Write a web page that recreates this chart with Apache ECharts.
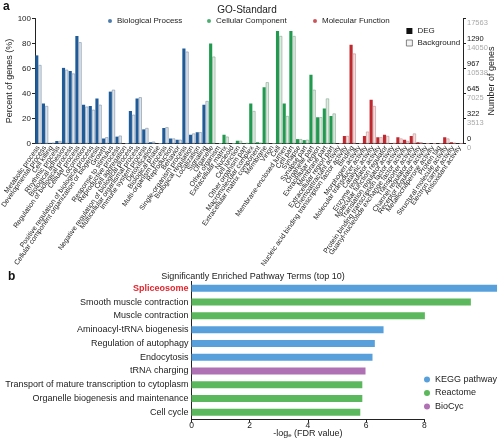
<!DOCTYPE html>
<html><head><meta charset="utf-8">
<script src="https://cdn.jsdelivr.net/npm/echarts@6/dist/echarts.min.js"></script>
<style>html,body{margin:0;padding:0;background:#fff}#c{width:500px;height:438px}</style>
</head><body><div id="c"></div>
<script>
// ---------- Panel a: GO-Standard ----------
const groupNames = ['Biological Process', 'Cellular Component', 'Molecular Function'];
const groupSizes = [26, 19, 19];
const goCategories = [
  'Metabolic process','Developmental process','Cell killing','Rhythmic process','Biological adhesion',
  'Regulation of biological process','Cellular process','Locomotion','Positive regulation of biological process',
  'Cellular component organization or biogenesis','Growth','Response to stimulus','Reproductive process',
  'Cell aggregation','Negative regulation of biological process','Multicellular organismal process',
  'Immune system process','Detoxification','Biological phase','Multi-organism process','Reproduction',
  'Behavior','Single-organism process','Biological regulation','Localization','Signaling',
  'Organelle','Other organism','Extracellular matrix','Nucleoid','Cell junction','Other organism part',
  'Macromolecular complex','Extracellular matrix component','Membrane','Virion','Cell',
  'Membrane-enclosed lumen','Cell part','Synapse','Synapse part','Organelle part',
  'Extracellular region','Membrane part','Extracellular region part',
  'Chemoattractant activity','Nucleic acid binding transcription factor activity','Binding',
  'Morphogen activity','Molecular transducer activity','Catalytic activity','Enzyme regulator activity',
  'Molecular function regulator','Translation regulator activity',
  'Protein binding transcription factor activity','Guanyl-nucleotide exchange factor activity',
  'Transporter activity','Channel regulator activity','Receptor regulator activity',
  'Metallochaperone activity','Protein tag','Structural molecule activity','Electron carrier activity',
  'Antioxidant activity'
];
const degPercent = [
  70.5,32,0.5,2,60.5,58,86,31,30,36,4,41.5,5.5,0,26,36,11.3,1,0,12.4,4,3,76,7,9,31,
  80,0,7,0,2.2,0.3,32,1,45,0,90,32,90,3.5,2.7,55,21,28,22,
  0,6,79,0,6,35,5,7,0.3,5,3,6,1,0,0,0,5,1,0
];
const bgPercent = [
  62.8,30,0.5,2,59,56,81,29.5,27,31,5,43,6.3,0,23,37,12.4,1.5,0,13,4,3,73.5,8,9,34,
  69.5,0,5.5,0,2.2,0.3,26,0.5,49,0,86,22,86,3.5,3,43,21,36,24,
  0,6,72,0,9.5,30,5,6,0.3,4,2,8,1,0,0,0,4,0.5,0
];
const percentTicks = [0, 20, 40, 60, 80, 100];
const degCountTicks = ['0','322','645','967','1290',''];
const bgCountTicks = ['0','3513','7025','10538','14050','17563'];

// ---------- Panel b: pathway terms ----------
const pathwayTerms = ['Spliceosome','Smooth muscle contraction','Muscle contraction','Aminoacyl-tRNA biogenesis',
  'Regulation of autophagy','Endocytosis','tRNA charging','Transport of mature transcription to cytoplasm',
  'Organelle biogenesis and maintenance','Cell cycle'];
const pathwayValues = [10.5, 9.6, 8.02, 6.6, 6.3, 6.22, 5.98, 5.87, 5.87, 5.8];
const pathwaySource = ['KEGG pathway','Reactome','Reactome','KEGG pathway','KEGG pathway','KEGG pathway',
  'BioCyc','Reactome','Reactome','Reactome'];
const sourceNames = ['KEGG pathway','Reactome','BioCyc'];

// ---------- styling ----------
const FONT = '"Liberation Sans", Arial, sans-serif';
const groupColors = ['#1f5b98', '#1f9a4e', '#c0282f'];
const bgFill = ['#dde3ea', '#dfe9e2', '#f0e0e0'];
const bgBorder = ['#7c91a7', '#7fa78b', '#c88c8c'];
const sourceColors = ['#58a0dc', '#5cb85c', '#b070b4'];

function groupOf(i) {
  let acc = 0;
  for (let g = 0; g < groupSizes.length; g++) { acc += groupSizes[g]; if (i < acc) return g; }
  return groupSizes.length - 1;
}

const degData = degPercent.map((v, i) => ({ value: v, itemStyle: { color: groupColors[groupOf(i)] } }));
const bgData = bgPercent.map((v, i) => ({ value: v, itemStyle: { color: bgFill[groupOf(i)], borderColor: bgBorder[groupOf(i)], borderWidth: 0.6 } }));

const chart = echarts.init(document.getElementById('c'), null, { renderer: 'canvas' });

const option = {
  animation: false,
  textStyle: { fontFamily: FONT },
  graphic: [
    { type: 'text', x: 3, y: 1, style: { text: 'a', font: 'bold 12px ' + FONT, fill: '#111' } },
    { type: 'text', x: 247, y: 10, style: { text: 'GO-Standard', font: '10px ' + FONT, fill: '#222', textAlign: 'center', textVerticalAlign: 'middle' } },
    { type: 'text', x: 8, y: 271, style: { text: 'b', font: 'bold 12px ' + FONT, fill: '#111' } },
    { type: 'text', x: 253, y: 277, style: { text: 'Significantly Enriched Pathway Terms (top 10)', font: '9px ' + FONT, fill: '#222', textAlign: 'center', textVerticalAlign: 'middle' } }
  ],
  legend: [
    { data: [groupNames[0]], left: 108, top: 17, padding: 0, icon: 'circle', itemWidth: 4, itemHeight: 4, selectedMode: false, textStyle: { fontSize: 8, color: '#222' } },
    { data: [groupNames[1]], left: 207, top: 17, padding: 0, icon: 'circle', itemWidth: 4, itemHeight: 4, selectedMode: false, textStyle: { fontSize: 8, color: '#222' } },
    { data: [groupNames[2]], left: 313, top: 17, padding: 0, icon: 'circle', itemWidth: 4, itemHeight: 4, selectedMode: false, textStyle: { fontSize: 8, color: '#222' } },
    { data: [
        { name: 'DEG', icon: 'rect', itemStyle: { color: '#111', borderWidth: 0 } },
        { name: 'Background', icon: 'rect', itemStyle: { color: '#f4f4f4', borderColor: '#666', borderWidth: 0.8 } }
      ],
      orient: 'vertical', left: 406, top: 27, padding: 0, itemWidth: 6, itemHeight: 6, itemGap: 4, selectedMode: false,
      textStyle: { fontSize: 8, color: '#222' } },
    { data: sourceNames, orient: 'vertical', left: 424, top: 375, padding: 0, icon: 'circle', itemWidth: 6, itemHeight: 6, itemGap: 4.5, selectedMode: false,
      textStyle: { fontSize: 9, color: '#222' } }
  ],
  grid: [
    { left: 35, right: 37, top: 18.5, bottom: 294.5, outerBoundsMode: 'none', containLabel: false },
    { left: 191.5, right: 75.7, top: 281.4, bottom: 18.8, outerBoundsMode: 'none', containLabel: false }
  ],
  xAxis: [
    { type: 'category', gridIndex: 0, data: goCategories,
      axisLine: { lineStyle: { color: '#222', width: 1 } }, axisTick: { show: false },
      axisLabel: { interval: 0, rotate: 55, fontSize: 7, color: '#222', margin: 3 } },
    { type: 'value', gridIndex: 1, min: 0, max: 8, interval: 2,
      axisLine: { show: true, lineStyle: { color: '#222' } }, axisTick: { show: true, length: 3, lineStyle: { color: '#222' } },
      splitLine: { show: false },
      axisLabel: { fontSize: 8.5, color: '#222', margin: 2 },
      name: '-log{s|e} (FDR value)', nameLocation: 'middle', nameGap: 9, nameMoveOverlap: false,
      nameTextStyle: { fontSize: 9, color: '#222', verticalAlign: 'top', rich: { s: { fontSize: 6, verticalAlign: 'bottom', padding: [4, 0, 0, 0] } } } }
  ],
  yAxis: [
    { type: 'value', gridIndex: 0, min: 0, max: 100, interval: 20, position: 'left',
      axisLine: { show: true, lineStyle: { color: '#222' } }, axisTick: { show: true, length: 3, lineStyle: { color: '#222' } },
      splitLine: { show: false },
      axisLabel: { fontSize: 8, color: '#222', margin: 4 },
      name: 'Percent of genes (%)', nameLocation: 'middle', nameGap: 21, nameMoveOverlap: false, nameTextStyle: { fontSize: 9, color: '#222' } },
    { type: 'value', gridIndex: 0, min: 0, max: 100, interval: 20, position: 'right',
      axisLine: { show: true, lineStyle: { color: '#222' } }, axisTick: { show: true, length: 3, lineStyle: { color: '#222' } },
      splitLine: { show: false },
      axisLabel: { margin: 4, formatter: function (v) {
          const k = percentTicks.indexOf(v);
          return '{a|' + (degCountTicks[k] || ' ') + '}\n{b|' + bgCountTicks[k] + '}';
        },
        rich: { a: { fontSize: 7.5, color: '#111', lineHeight: 9 }, b: { fontSize: 7.5, color: '#aaa', lineHeight: 9 } } },
      name: 'Number of genes', nameLocation: 'middle', nameGap: 24, nameMoveOverlap: false, nameTextStyle: { fontSize: 9, color: '#222' } },
    { type: 'category', gridIndex: 1, data: pathwayTerms, inverse: true,
      axisLine: { show: true, lineStyle: { color: '#222' } }, axisTick: { show: false },
      axisLabel: { fontSize: 9, color: '#222', margin: 3,
        formatter: function (v, i) { return i === 0 ? '{r|' + v + '}' : v; },
        rich: { r: { fontSize: 9, color: '#e0262e', fontWeight: 'bold' } } } }
  ],
  series: [
    { name: 'DEG', type: 'bar', xAxisIndex: 0, yAxisIndex: 0, data: degData, barGap: '0%', barCategoryGap: '6%' },
    { name: 'Background', type: 'bar', xAxisIndex: 0, yAxisIndex: 0, data: bgData, barGap: '0%', barCategoryGap: '6%' },
    { name: groupNames[0], type: 'scatter', xAxisIndex: 0, yAxisIndex: 0, data: [], itemStyle: { color: groupColors[0] } },
    { name: groupNames[1], type: 'scatter', xAxisIndex: 0, yAxisIndex: 0, data: [], itemStyle: { color: groupColors[1] } },
    { name: groupNames[2], type: 'scatter', xAxisIndex: 0, yAxisIndex: 0, data: [], itemStyle: { color: groupColors[2] } }
  ].concat(sourceNames.map((s, k) => ({
    name: s, type: 'bar', xAxisIndex: 1, yAxisIndex: 2, stack: 'pw', barWidth: 7, clip: false,
    itemStyle: { color: sourceColors[k] },
    data: pathwayValues.map((v, i) => pathwaySource[i] === s ? v : '-')
  })))
};
chart.setOption(option);
</script></body></html>
